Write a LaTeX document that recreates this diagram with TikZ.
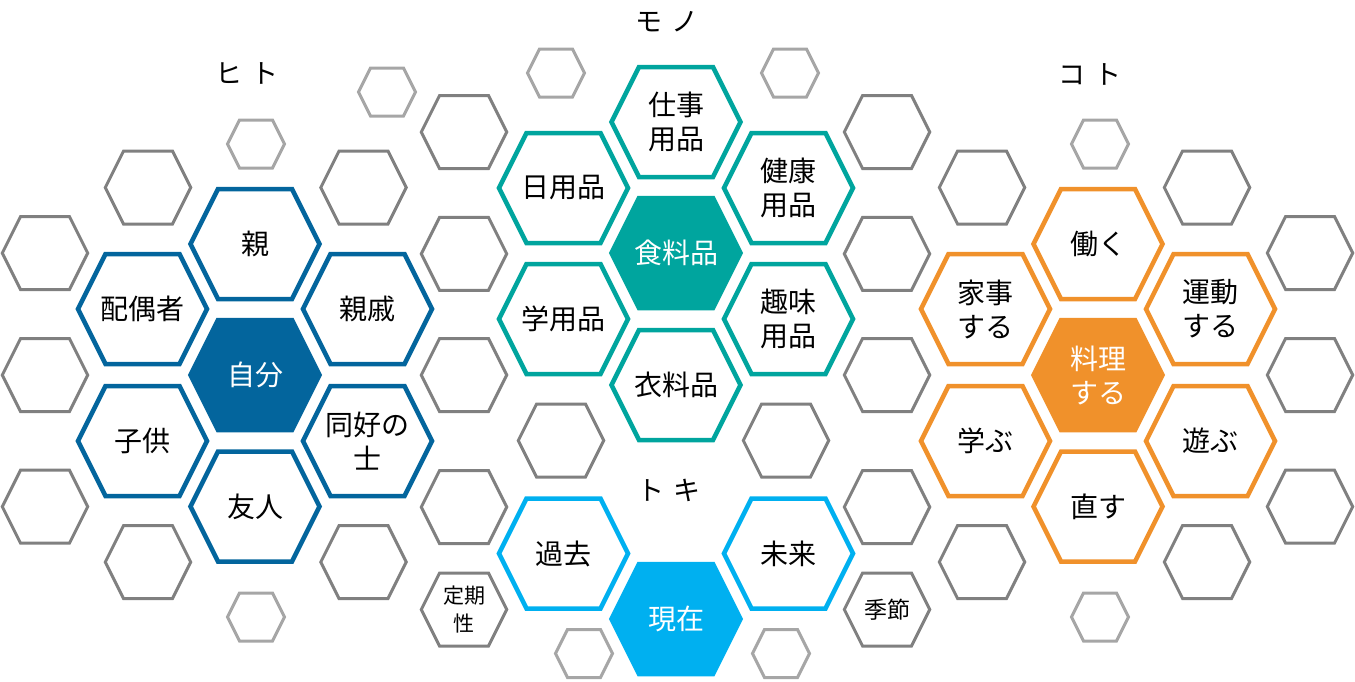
\documentclass[tikz,border=0pt]{standalone}
\usepackage{fontspec}
\setmainfont{Noto Sans CJK JP}
\definecolor{hito}{HTML}{03659D}
\definecolor{mono}{HTML}{00A59E}
\definecolor{toki}{HTML}{00B0F0}
\definecolor{koto}{HTML}{F0912B}
\definecolor{gmid}{HTML}{808080}
\definecolor{glight}{HTML}{A6A6A6}
\newcommand{\hexcell}[6]{%
  \coordinate (#2) at (#3,#4);
  \path[#1] (#2) +(-#5,0) -- +({-#5+#6/2},-#6) -- +({#5-#6/2},-#6) -- +(#5,0) -- +({#5-#6/2},#6) -- +({-#5+#6/2},#6) -- cycle;
}
\newcommand{\bighex}[5]{% style, name, x, y, text
  \hexcell{#1}{#2}{#3}{#4}{64.5}{55}
  \node[celltxt] (#2-t) at (#2) {#5};
}
\newcommand{\bighexw}[5]{% filled, white text
  \hexcell{#1}{#2}{#3}{#4}{64.5}{55}
  \node[celltxt, text=white] (#2-t) at (#2) {#5};
}
\newcommand{\midhex}[3]{\hexcell{graycell}{#1}{#2}{#3}{42.7}{36.5}}
\newcommand{\smallhex}[3]{\hexcell{lightcell}{#1}{#2}{#3}{28.5}{24}}
\tikzset{
  celltxt/.style={font=\fontsize{28}{34}\selectfont, align=center, inner sep=0pt},
  headtxt/.style={font=\fontsize{27}{34}\selectfont, inner sep=0pt},
  hitoline/.style={draw=hito, line width=4.5pt},
  hitofill/.style={draw=hito, fill=hito, line width=4.5pt},
  monoline/.style={draw=mono, line width=4.5pt},
  monofill/.style={draw=mono, fill=mono, line width=4.5pt},
  tokiline/.style={draw=toki, line width=4.5pt},
  tokifill/.style={draw=toki, fill=toki, line width=4.5pt},
  kotoline/.style={draw=koto, line width=4.5pt},
  kotofill/.style={draw=koto, fill=koto, line width=4.5pt},
  graycell/.style={draw=gmid, line width=3pt},
  lightcell/.style={draw=glight, line width=3pt},
}
\begin{document}
\begin{tikzpicture}[x=1pt,y=-1pt]
\useasboundingbox (0,0) rectangle (1355,681);
% headers
\node[headtxt] (h-hito) at (247,73) {ヒ\hspace{0.35em}ト};
\node[headtxt] (h-mono) at (667,22) {モ\hspace{0.35em}ノ};
\node[headtxt] (h-toki) at (669,490) {ト\hspace{0.35em}キ};
\node[headtxt] (h-koto) at (1090,74) {コ\hspace{0.35em}ト};
% gray cells
\midhex{g1}{148}{187.5}
\midhex{g2}{363.5}{187.5}
\midhex{g3}{45}{253}
\midhex{g4}{45}{375}
\midhex{g5}{45}{506.7}
\midhex{g6}{148}{562}
\midhex{g7}{363.5}{562}
\midhex{g8}{464}{132}
\midhex{g9}{464}{253.8}
\midhex{g10}{464}{375}
\midhex{g11}{464}{507}
\midhex{g12}{464}{609.5}
\midhex{g13}{561}{440.5}
\midhex{g14}{786}{440.5}
\midhex{g15}{887}{132}
\midhex{g16}{887}{253.8}
\midhex{g17}{887}{375}
\midhex{g18}{887}{507}
\midhex{g19}{887}{609.5}
\midhex{g20}{982}{187.5}
\midhex{g21}{1207}{187.5}
\midhex{g22}{1310}{253}
\midhex{g23}{1310}{375}
\midhex{g24}{1310}{506.7}
\midhex{g25}{982}{562}
\midhex{g26}{1207}{562}
\node[font=\fontsize{21}{28}\selectfont, align=center, inner sep=0pt] (g12-t) at (g12) {定期\\性};
\node[font=\fontsize{23}{28}\selectfont, inner sep=0pt] (g19-t) at (g19) {季節};
% light cells
\smallhex{l1}{256}{144}
\smallhex{l2}{387}{92}
\smallhex{l3}{556}{73}
\smallhex{l4}{790}{73}
\smallhex{l5}{256}{617}
\smallhex{l6}{584}{653.5}
\smallhex{l7}{781}{653.5}
\smallhex{l8}{1100}{144}
\smallhex{l9}{1100}{617}
% hito
\bighexw{hitofill}{jibun}{255}{375}{自分}
\bighex{hitoline}{oya}{255}{244}{親}
\bighex{hitoline}{haigusha}{142.5}{309}{配偶者}
\bighex{hitoline}{shinseki}{367.5}{309}{親戚}
\bighex{hitoline}{kodomo}{142.5}{441}{子供}
\bighex{hitoline}{doko}{367.5}{441}{同好の\\士}
\bighex{hitoline}{yujin}{255}{506.5}{友人}
% mono
\bighexw{monofill}{shoku}{676}{253}{食料品}
\bighex{monoline}{shigoto}{676}{122}{仕事\\用品}
\bighex{monoline}{nichi}{563.5}{188}{日用品}
\bighex{monoline}{kenko}{788.5}{188}{健康\\用品}
\bighex{monoline}{gaku}{563.5}{319}{学用品}
\bighex{monoline}{shumi}{788.5}{319}{趣味\\用品}
\bighex{monoline}{iryo}{676}{385}{衣料品}
% toki
\bighexw{tokifill}{genzai}{676}{619}{現在}
\bighex{tokiline}{kako}{563.5}{553.5}{過去}
\bighex{tokiline}{mirai}{788.5}{553.5}{未来}
% koto
\bighexw{kotofill}{ryori}{1098}{375}{料理\\する}
\bighex{kotoline}{hataraku}{1098}{244}{働く}
\bighex{kotoline}{kaji}{985.5}{309}{家事\\する}
\bighex{kotoline}{undo}{1210.5}{309}{運動\\する}
\bighex{kotoline}{manabu}{985.5}{441}{学ぶ}
\bighex{kotoline}{asobu}{1210.5}{441}{遊ぶ}
\bighex{kotoline}{naosu}{1098}{506.5}{直す}
\end{tikzpicture}
\end{document}
